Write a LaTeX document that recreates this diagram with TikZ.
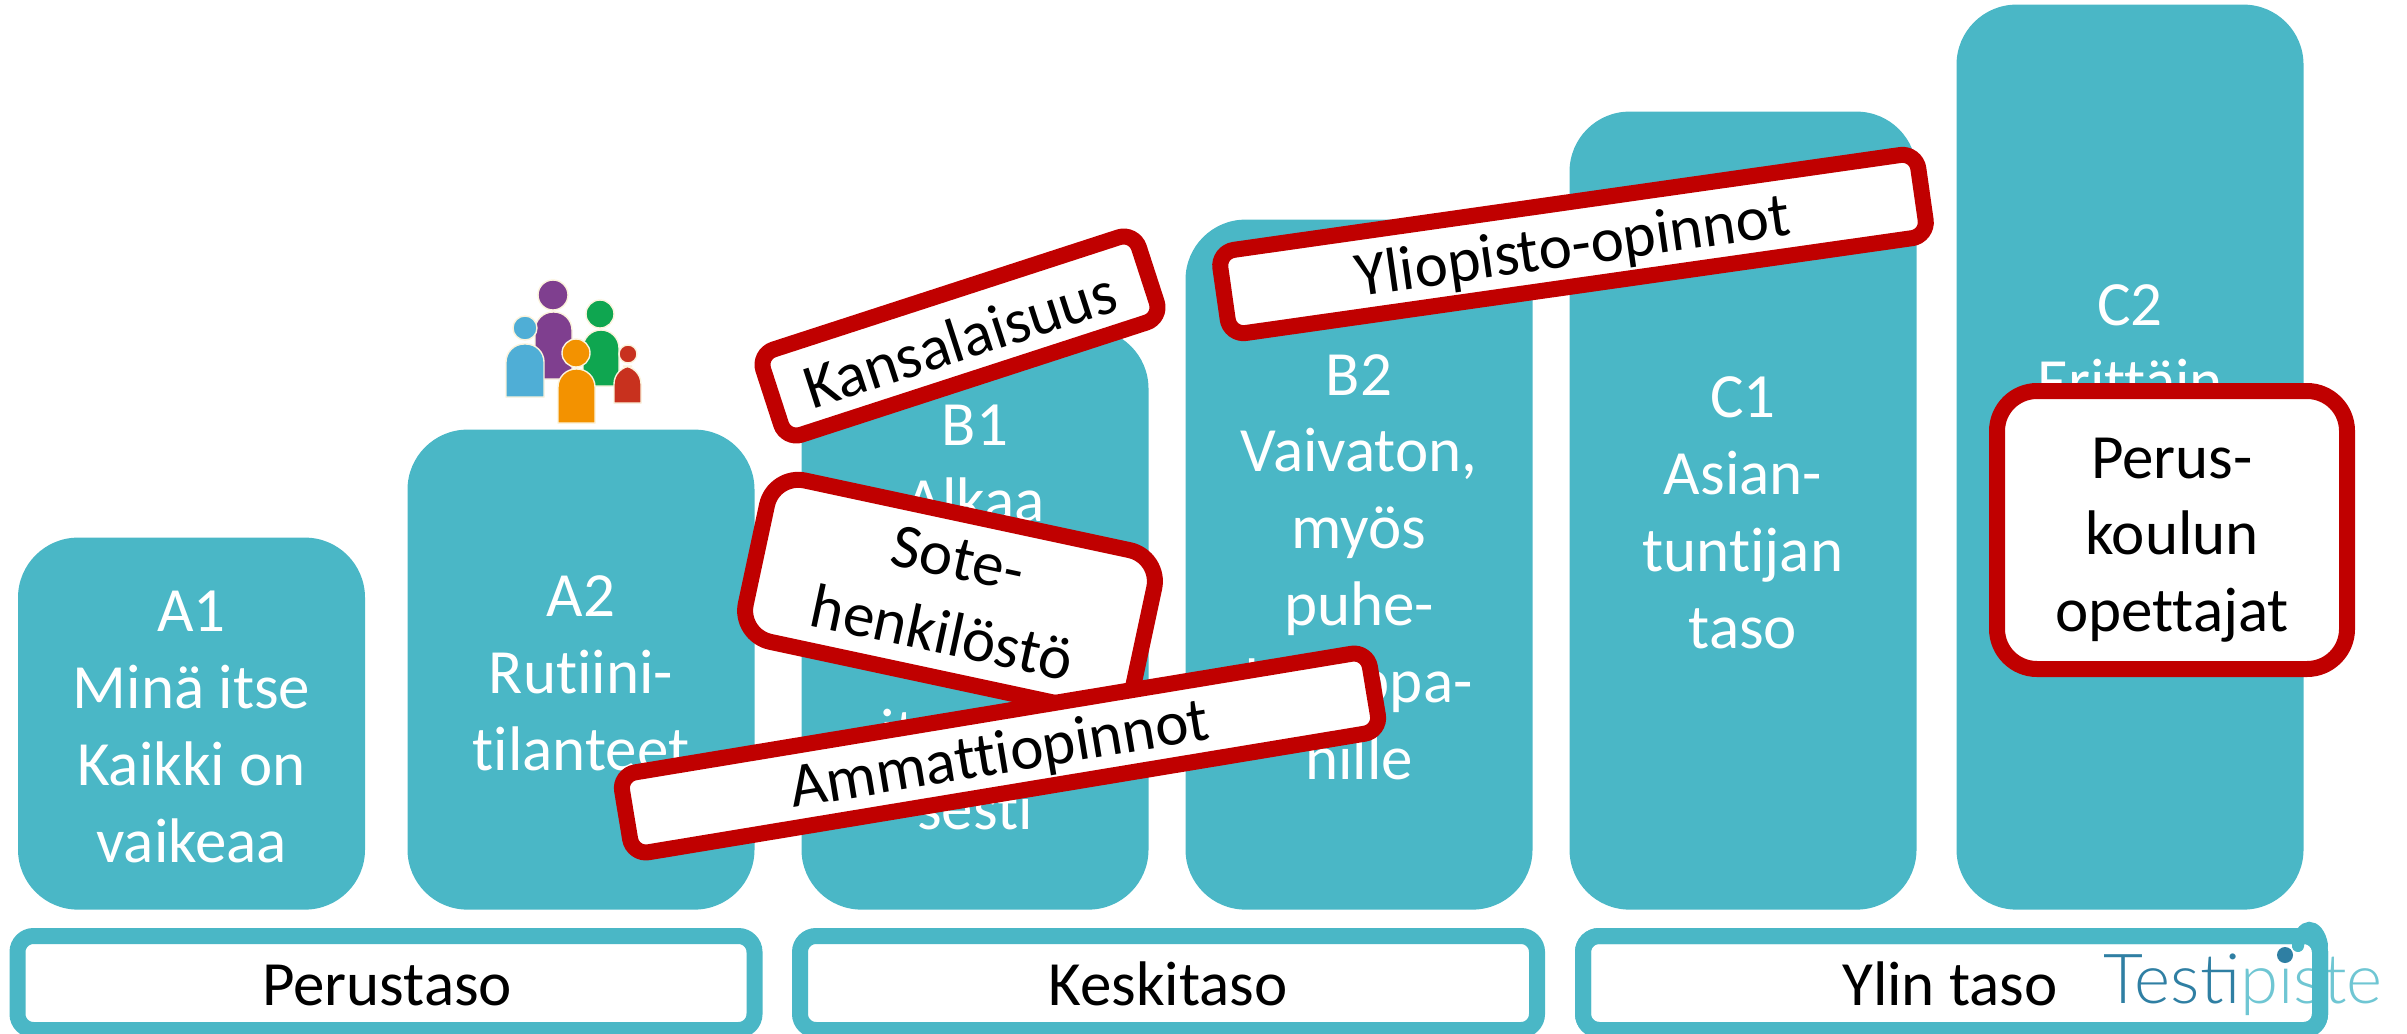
\documentclass[tikz,border=0pt]{standalone}
\usepackage{fontspec}
\setmainfont{Carlito}[Ligatures=NoCommon]
\newfontfamily\logofont{Lato Light}
\definecolor{tealbox}{HTML}{4AB7C6}
\definecolor{redbox}{HTML}{C00000}
\definecolor{logodark}{HTML}{2F7FA3}
\definecolor{logolight}{HTML}{6FC6D3}
\definecolor{halo}{HTML}{FBF3DC}
\definecolor{ppurple}{HTML}{7F3F8F}
\definecolor{pgreen}{HTML}{0FA650}
\definecolor{pblue}{HTML}{4FAED6}
\definecolor{porange}{HTML}{F39200}
\definecolor{pred}{HTML}{C8311E}
\newcommand{\bodyfont}{\fontsize{31.5}{38.4}\selectfont}
\newcommand{\person}[8]{%
  \fill[#1,draw=halo,line width=.7pt] (#5,#8) [rounded corners=9pt] -- (#5,#7) -- (#6,#7) [sharp corners] -- (#6,#8) -- cycle;
  \fill[#1,draw=halo,line width=.7pt] (#2,#3) circle[radius=#4*0.5pt];
}
\tikzset{
  levelbox/.style={fill=tealbox,rounded corners=30pt,minimum width=173.5pt,anchor=south,inner sep=0pt},
  leveltext/.style={text=white,font=\bodyfont,align=center,anchor=base,inner sep=0pt},
  bar/.style={draw=tealbox,line width=8pt,rounded corners=8pt,minimum width=368.5pt,minimum height=47pt,inner sep=0pt},
  barline/.style={bar,fill=white},
  bartext/.style={text=black,font=\bodyfont,anchor=base,inner sep=0pt},
  redtag/.style={draw=redbox,fill=white,line width=8pt,inner sep=0pt,text=black,font=\bodyfont,align=center},
  tagtext/.style={inner sep=0pt,text=black,font=\bodyfont,align=center},
}
\begin{document}
\begin{tikzpicture}[x=0.5pt,y=-0.5pt]
\useasboundingbox (0,0) rectangle (2407,1033);
% level columns
\node[levelbox,minimum height=186pt] (a1) at (191.5,910) {};
\node[levelbox,minimum height=240pt] (a2) at (581,910) {};
\node[levelbox,minimum height=290.5pt] (b1) at (975,910) {};
\node[levelbox,minimum height=345pt] (b2) at (1359,910) {};
\node[levelbox,minimum height=399pt] (c1) at (1743,910) {};
\node[levelbox,minimum height=452.5pt] (c2) at (2130,910) {};
% level texts
\node[leveltext] (ta1) at (191.5,862) {A1\\Minä itse\\Kaikki on\\vaikeaa};
\node[leveltext] (ta2) at (581,770) {A2\\Rutiini-\\tilanteet};
\node[leveltext] (tb1) at (975,829) {B1\\Alkaa\\[76.8pt]itsenäi-\\sesti};
\node[leveltext] (tb2) at (1359,779) {B2\\Vaivaton,\\myös\\puhe-\\kumppa-\\nille};
\node[leveltext] (tc1) at (1743,648) {C1\\Asian-\\tuntijan\\taso};
\node[leveltext] (tc2) at (2130,402) {C2\\Erittäin};
% people icon
\person{ppurple}{553}{295}{15}{535}{572}{312}{379}
\person{pgreen}{600}{314}{14}{583}{619}{330}{386}
\person{pblue}{525}{328}{12}{506}{544}{344}{397}
\person{porange}{576}{353}{14}{558}{595}{369}{423}
\person{pred}{628}{354}{9}{614}{641}{366}{403}
% bottom bars
\node[barline] (perus) at (386,983) {};
\node[barline] (keski) at (1168.5,983) {};
\node[barline] (ylin) at (1951.5,983) {};
\node[bartext] (tperus) at (387,1005) {Perustaso};
\node[bartext] (tkeski) at (1168,1005) {Keskitaso};
\node[bartext] (tylin) at (1950,1005) {Ylin taso};
% logo
\node[anchor=base west,inner sep=0pt,font=\logofont\fontsize{34.5}{38}\selectfont] (logo) at (2103,1003) {\textcolor{logodark}{Testi}\textcolor{logolight}{piste}};
\node[bar,fill=none] (ylinedge) at (1951.5,983) {};
\fill[logodark] (2285,955) circle[radius=4pt];
\draw[tealbox,line width=6pt,line cap=round] (2298,946) .. controls (2300,922) and (2318,922) .. (2322,945);
% tags
\node[redtag,rotate=18,minimum width=197.5pt,minimum height=44.8pt,rounded corners=8pt] (kans) at (960,336) {};
\node[tagtext,rotate=18] (tkans) at (960,339) {Kansalaisuus};
\node[redtag,rotate=-12.1,minimum width=198pt,minimum height=82.5pt,rounded corners=16pt] (sote) at (950,596) {};
\node[tagtext,rotate=-12.1] (tsote) at (950,596) {Sote-\\henkilöstö};
\node[redtag,rotate=9.4,minimum width=379pt,minimum height=40.5pt,rounded corners=8pt] (amm) at (1000,753) {};
\node[tagtext,rotate=9.4] (tamm) at (1000,757) {Ammattiopinnot};
\node[redtag,rotate=8.1,minimum width=352.5pt,minimum height=42pt,rounded corners=8pt] (yli) at (1573,244) {};
\node[tagtext,rotate=8.1] (tyli) at (1573,249) {Yliopisto-opinnot};
\node[redtag,minimum width=175pt,minimum height=139pt,rounded corners=20pt] (opet) at (2172,530) {};
\node[tagtext] (topet) at (2172,540) {Perus-\\koulun\\opettajat};
\end{tikzpicture}
\end{document}
